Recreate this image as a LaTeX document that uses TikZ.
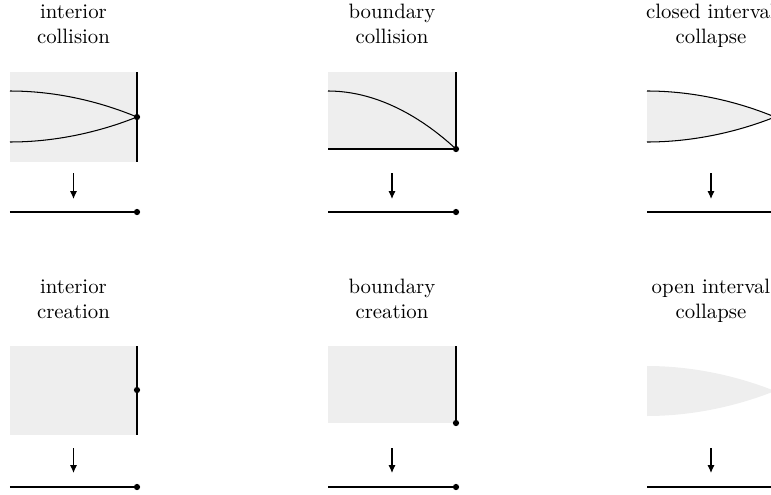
\documentclass[tikz,border=0pt]{standalone}
\usetikzlibrary{arrows.meta}
\definecolor{regionfill}{RGB}{238,238,238}
\begin{document}
\begin{tikzpicture}[x=0.4808pt,y=-0.4808pt,
  line width=0.5pt,
  lbl/.style={anchor=base,align=center,inner sep=0pt,font=\normalsize},
  region/.style={fill=regionfill,draw=none},
  curve/.style={draw=black,line width=0.5pt},
  mapsto/.style={-{Latex[length=3.8pt,width=3.4pt]},line width=0.5pt},
  pt/.style={circle,fill=black,inner sep=0pt,minimum size=3pt}]
\useasboundingbox (0,0) rectangle (771,495);
\clip (0,0) rectangle (771,495);

% ---------- top row ----------
% interior collision
\node[lbl] (l1) at (73.5,43) {interior\\collision};
\fill[region] (10,72) rectangle (137,162);
\draw (137,72) -- (137,162);
\draw[curve] (10,91) parabola[bend at start] (137,117);
\draw[curve] (10,142) parabola[bend at start] (137,117);
\node[pt] (d1) at (137,117) {};
\coordinate (a1s) at (73.5,173);
\coordinate (a1e) at (73.5,199);
\draw[mapsto] (a1s) -- (a1e);
\coordinate (b1s) at (10,212);
\node[pt] (b1e) at (137,212) {};
\draw (b1s) -- (b1e.center);

% boundary collision
\node[lbl] (l2) at (392,43) {boundary\\collision};
\fill[region] (328,72) rectangle (456,149);
\draw (456,72) -- (456,149) -- (328,149);
\draw[curve] (328,91) parabola[bend at start] (456,149);
\node[pt] (d2) at (456,149) {};
\coordinate (a2s) at (392,173);
\coordinate (a2e) at (392,199);
\draw[mapsto] (a2s) -- (a2e);
\coordinate (b2s) at (328,212);
\node[pt] (b2e) at (456,212) {};
\draw (b2s) -- (b2e.center);

% closed interval collapse
\node[lbl] (l3) at (711,43) {closed interval\\collapse};
\fill[region] (647,91) parabola[bend at start] (775,117) parabola[bend at end] (647,142) -- cycle;
\draw[curve] (647,91) parabola[bend at start] (775,117) parabola[bend at end] (647,142);
\coordinate (a3s) at (711,173);
\coordinate (a3e) at (711,199);
\draw[mapsto] (a3s) -- (a3e);
\coordinate (b3s) at (647,212);
\coordinate (b3e) at (775,212);
\draw (b3s) -- (b3e);

% ---------- bottom row ----------
% interior creation
\node[lbl] (l4) at (73.5,318) {interior\\creation};
\fill[region] (10,346) rectangle (137,435);
\draw (137,346) -- (137,435);
\node[pt] (d4) at (137,390) {};
\coordinate (a4s) at (73.5,448);
\coordinate (a4e) at (73.5,473);
\draw[mapsto] (a4s) -- (a4e);
\coordinate (b4s) at (10,487);
\node[pt] (b4e) at (137,487) {};
\draw (b4s) -- (b4e.center);

% boundary creation
\node[lbl] (l5) at (392,318) {boundary\\creation};
\fill[region] (328,346) rectangle (456,423);
\draw (456,346) -- (456,423);
\node[pt] (d5) at (456,423) {};
\coordinate (a5s) at (392,448);
\coordinate (a5e) at (392,473);
\draw[mapsto] (a5s) -- (a5e);
\coordinate (b5s) at (328,487);
\node[pt] (b5e) at (456,487) {};
\draw (b5s) -- (b5e.center);

% open interval collapse
\node[lbl] (l6) at (711,318) {open interval\\collapse};
\fill[region] (647,366) parabola[bend at start] (775,391) parabola[bend at end] (647,416) -- cycle;
\coordinate (a6s) at (711,448);
\coordinate (a6e) at (711,473);
\draw[mapsto] (a6s) -- (a6e);
\coordinate (b6s) at (647,487);
\coordinate (b6e) at (775,487);
\draw (b6s) -- (b6e);
\end{tikzpicture}
\end{document}
